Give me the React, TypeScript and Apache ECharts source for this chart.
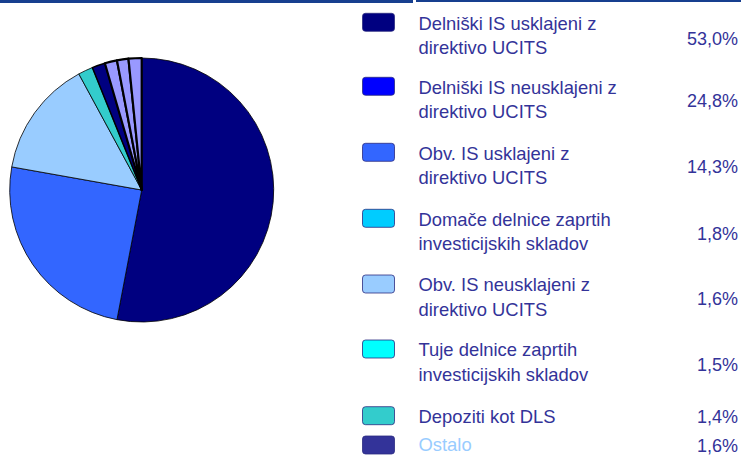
import React, { useEffect, useRef } from "react";
import * as echarts from "echarts";

// Pie slices (clockwise from 12 o'clock)
const sliceValues = [53.0, 24.8, 14.3, 1.8, 1.6, 1.5, 1.4, 1.6];
const sliceColors = ["#000080", "#3366FF", "#99CCFF", "#33CCCC", "#000080", "#9999FF", "#9999FF", "#9999FF"];
const sliceBorders = [0.8, 0.8, 0.8, 0.8, 1.5, 2.2, 2.2, 2.2];

// Legend
const legendLabels = [
  "Delniški IS usklajeni z\ndirektivo UCITS",
  "Delniški IS neusklajeni z\ndirektivo UCITS",
  "Obv. IS usklajeni z\ndirektivo UCITS",
  "Domače delnice zaprtih\ninvesticijskih skladov",
  "Obv. IS neusklajeni z\ndirektivo UCITS",
  "Tuje delnice zaprtih\ninvesticijskih skladov",
  "Depoziti kot DLS",
  "Ostalo",
];
const legendPercents = ["53,0%", "24,8%", "14,3%", "1,8%", "1,6%", "1,5%", "1,4%", "1,6%"];
const legendSwatchColors = ["#000080", "#0000FF", "#3366FF", "#00CCFF", "#99CCFF", "#00FFFF", "#33CCCC", "#333399"];
const legendTextColors = ["#333399", "#333399", "#333399", "#333399", "#333399", "#333399", "#333399", "#99CCFF"];

// Layout (pixel positions of legend rows)
const swatchTops = [13.3, 77.3, 143.3, 209.3, 275, 340, 406.7, 436];
const percentBaselines = [45, 107.5, 173.3, 240, 305, 371.7, 423.3, 452.4];

const FONT = "Liberation Sans, Arial, Helvetica, sans-serif";

export default function App() {
  const ref = useRef<HTMLDivElement>(null);
  useEffect(() => {
    if (!ref.current) return;
    const chart = echarts.init(ref.current, null, { renderer: "svg" });
    const graphic: any[] = [
      { type: "rect", shape: { x: 0, y: 0, width: 413, height: 3 }, style: { fill: "#173F8F" }, silent: true },
      { type: "rect", shape: { x: 416, y: 0, width: 325, height: 2 }, style: { fill: "#173F8F" }, silent: true },
    ];
    legendLabels.forEach((lab, i) => {
      const top = swatchTops[i];
      graphic.push({
        type: "rect",
        shape: { x: 362.5, y: top, width: 32, height: 18, r: 3 },
        style: { fill: legendSwatchColors[i], stroke: "#2B2B80", lineWidth: 0.8 },
        silent: true,
      });
      graphic.push({
        type: "text",
        x: 418.5,
        y: top - 2.4 + (i === 7 ? 0.4 : 0),
        style: {
          text: lab,
          font: `18.4px ${FONT}`,
          fill: legendTextColors[i],
          textAlign: "left",
          verticalAlign: "top",
          lineHeight: i === 7 ? 20 : 24.5,
        },
        silent: true,
      });
      graphic.push({
        type: "text",
        x: 738,
        y: percentBaselines[i] - 6.4,
        style: {
          text: legendPercents[i],
          font: `18px ${FONT}`,
          fill: "#333399",
          textAlign: "right",
          verticalAlign: "middle",
        },
        silent: true,
      });
    });

    chart.setOption({
      animation: false,
      backgroundColor: "#FFFFFF",
      graphic,
      series: [
        {
          type: "pie",
          center: [141.7, 190],
          radius: [0, 132],
          startAngle: 90,
          clockwise: true,
          label: { show: false },
          labelLine: { show: false },
          emphasis: { disabled: true },
          silent: true,
          data: sliceValues.map((v, i) => ({
            value: v,
            itemStyle: { color: sliceColors[i], borderColor: "#000000", borderWidth: sliceBorders[i] },
          })),
        },
      ],
    });
    return () => chart.dispose();
  }, []);
  return (
    <div
      ref={ref}
      style={{ position: "absolute", left: 0, top: 0, width: 741, height: 456 }}
    />
  );
}
